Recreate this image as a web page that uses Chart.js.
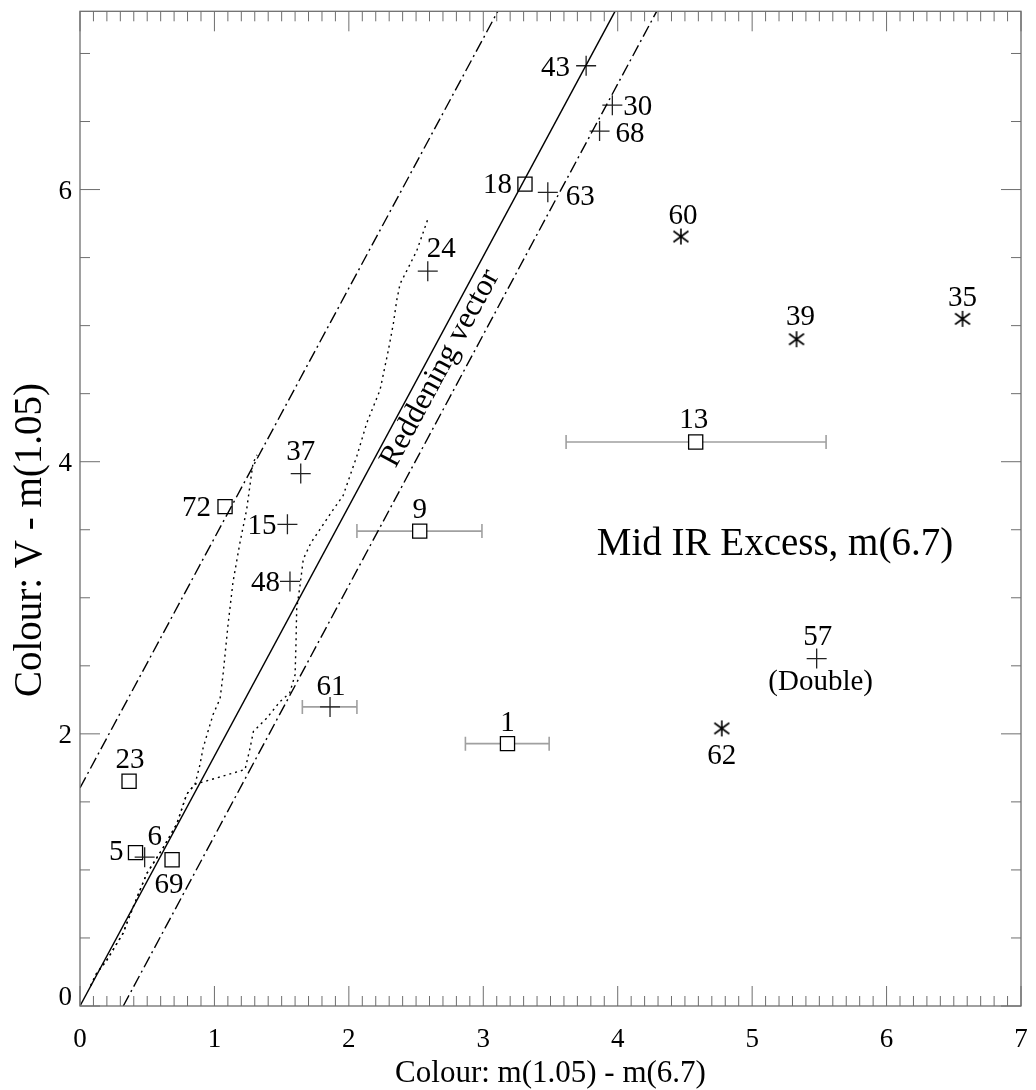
<!DOCTYPE html>
<html>
<head>
<meta charset="utf-8">
<script src="https://cdn.jsdelivr.net/npm/chart.js@4.4.0/dist/chart.umd.min.js"></script>
<style>
  html, body { margin: 0; padding: 0; background: #fff; }
</style>
</head>
<body>
<canvas id="grafico" width="1036" height="1090"></canvas>
<script>
// sources marked with a plus
const plusIds = ["43", "30", "68", "63", "24", "37", "15", "48", "61", "57", "6"];
const plusX = [3.765, 3.96, 3.865, 3.48, 2.587, 1.642, 1.543, 1.562, 1.86, 5.48, 0.481];
const plusY = [6.91, 6.62, 6.43, 5.98, 5.40, 3.913, 3.54, 3.12, 2.198, 2.553, 1.094];

// sources marked with a square
const squareIds = ["18", "13", "9", "72", "1", "23", "5", "69"];
const squareX = [3.31, 4.58, 2.527, 1.079, 3.18, 0.365, 0.413, 0.685];
const squareY = [6.04, 4.145, 3.49, 3.67, 1.928, 1.652, 1.127, 1.075];

// sources marked with an asterisk
const starIds = ["60", "39", "35", "62"];
const starX = [4.47, 5.33, 6.565, 4.774];
const starY = [5.655, 4.90, 5.05, 2.04];

// horizontal error bars
const errIds = ["13", "9", "61", "1"];
const errLow = [3.616, 2.06, 1.654, 2.867];
const errHigh = [5.55, 2.99, 2.06, 3.49];

// reddening vector and its band
const reddeningX = [0, 3.98];
const reddeningY = [0, 7.31];
const upperBandX = [0, 3.108];
const upperBandY = [1.603, 7.31];
const lowerBandX = [0.322, 4.29];
const lowerBandY = [0, 7.31];

// dotted tracks
const trackAX = [0.08, 0.124, 0.199, 0.32, 0.394, 0.496, 0.618, 0.72, 0.794, 0.856, 0.893, 0.915, 0.952, 0.99, 1.042, 1.064, 1.101, 1.138, 1.19, 1.24, 1.287, 1.317];
const trackAY = [0.15, 0.241, 0.336, 0.534, 0.724, 0.972, 1.162, 1.338, 1.557, 1.63, 1.776, 1.893, 2.018, 2.142, 2.259, 2.434, 2.80, 3.114, 3.406, 3.65, 3.99, 4.05];
const trackBX = [0.08, 0.124, 0.199, 0.32, 0.394, 0.496, 0.618, 0.72, 0.794, 0.856, 0.893, 1.228, 1.265, 1.29, 1.389, 1.488, 1.56, 1.6, 1.607, 1.612, 1.637, 1.661, 1.719, 1.885, 1.957, 2.059, 2.133, 2.232, 2.294, 2.331, 2.356, 2.381, 2.431, 2.505, 2.592];
const trackBY = [0.15, 0.241, 0.336, 0.534, 0.724, 0.972, 1.162, 1.338, 1.557, 1.63, 1.64, 1.738, 1.895, 2.018, 2.115, 2.237, 2.30, 2.434, 2.675, 2.919, 3.092, 3.284, 3.406, 3.65, 3.75, 4.04, 4.284, 4.527, 4.82, 5.015, 5.185, 5.307, 5.404, 5.55, 5.795];

const xTickLabels = [0, 1, 2, 3, 4, 5, 6, 7];
const yTickLabels = [0, 2, 4, 6];

// where each number sits next to its marker: [dx, dy, align]
const labelLayout = {
    "43": [-16, 0, "right"], "30": [11, 0, "left"], "68": [16, 1, "left"],
    "18": [-13, -1, "right"], "63": [18, 3, "left"], "24": [-1, -24, "left"],
    "60": [2, -23, "center"], "39": [4, -24, "center"], "35": [0, -23, "center"],
    "13": [-2, -24, "center"], "9": [0, -23, "center"], "37": [0, -24, "center"],
    "72": [-14, -1, "right"], "15": [-11, 0, "right"], "48": [-10, 0, "right"],
    "61": [1, -22, "center"], "1": [0, -23, "center"], "57": [1, -24, "center"],
    "62": [0, 26, "center"], "23": [1, -23, "center"], "5": [-12, -3, "right"],
    "6": [10, -22, "center"], "69": [-3, 23, "center"]
};

const serif = '"Liberation Serif", "DejaVu Serif", serif';
const axisGray = "#6e6e6e";

function pares(xs, ys) {
    return xs.map((x, i) => ({ x: x, y: ys[i] }));
}

function criarAsterisco() {
    const c = document.createElement("canvas");
    c.width = 18;
    c.height = 18;
    const g = c.getContext("2d");
    g.strokeStyle = "#000";
    g.lineWidth = 1.6;
    g.beginPath();
    g.moveTo(9, 1); g.lineTo(9, 17);
    g.moveTo(1.5, 3.5); g.lineTo(16.5, 14.5);
    g.moveTo(1.5, 14.5); g.lineTo(16.5, 3.5);
    g.stroke();
    return c;
}

const errorBars = {
    id: "errorBars",
    beforeDatasetsDraw(chart) {
        const { ctx, scales: { x, y } } = chart;
        ctx.save();
        ctx.strokeStyle = "#a0a0a0";
        ctx.lineWidth = 1.6;
        errIds.forEach((id, i) => {
            const k = squareIds.indexOf(id);
            const yv = k >= 0 ? squareY[k] : plusY[plusIds.indexOf(id)];
            const py = y.getPixelForValue(yv);
            const x0 = x.getPixelForValue(errLow[i]);
            const x1 = x.getPixelForValue(errHigh[i]);
            ctx.beginPath();
            ctx.moveTo(x0, py); ctx.lineTo(x1, py);
            ctx.moveTo(x0, py - 7); ctx.lineTo(x0, py + 7);
            ctx.moveTo(x1, py - 7); ctx.lineTo(x1, py + 7);
            ctx.stroke();
        });
        ctx.restore();
    }
};

const molduraEixos = {
    id: "molduraEixos",
    afterDraw(chart) {
        const { ctx, chartArea: a, scales: { x, y } } = chart;
        ctx.save();

        // frame
        ctx.strokeStyle = axisGray;
        ctx.lineWidth = 1.3;
        ctx.strokeRect(a.left, a.top, a.right - a.left, a.bottom - a.top);

        // inward ticks
        ctx.lineWidth = 1;
        ctx.beginPath();
        for (let i = 0; i <= 70; i++) {
            const px = x.getPixelForValue(i / 10);
            const len = i % 10 === 0 ? 20 : 10;
            ctx.moveTo(px, a.bottom); ctx.lineTo(px, a.bottom - len);
            ctx.moveTo(px, a.top); ctx.lineTo(px, a.top + len);
        }
        for (let i = 0; i * 0.5 <= y.max; i++) {
            const py = y.getPixelForValue(i * 0.5);
            const len = i % 4 === 0 ? 20 : 10;
            ctx.moveTo(a.left, py); ctx.lineTo(a.left + len, py);
            ctx.moveTo(a.right, py); ctx.lineTo(a.right - len, py);
        }
        ctx.stroke();

        // tick labels
        ctx.fillStyle = "#000";
        ctx.font = "27px " + serif;
        ctx.textBaseline = "alphabetic";
        ctx.textAlign = "center";
        xTickLabels.forEach(v => {
            ctx.fillText(String(v), x.getPixelForValue(v), a.bottom + 41);
        });
        ctx.textAlign = "right";
        yTickLabels.forEach(v => {
            const py = y.getPixelForValue(v);
            ctx.fillText(String(v), a.left - 8, v === 0 ? py - 1 : py + 9);
        });

        // axis titles
        ctx.font = "31px " + serif;
        ctx.textAlign = "center";
        ctx.fillText("Colour: m(1.05) - m(6.7)", (a.left + a.right) / 2, a.bottom + 76);
        ctx.save();
        ctx.translate(41, 540);
        ctx.rotate(-Math.PI / 2);
        ctx.font = "39px " + serif;
        ctx.fillText("Colour: V - m(1.05)", 0, 0);
        ctx.restore();

        ctx.restore();
    }
};

const rotulos = {
    id: "rotulos",
    afterDatasetsDraw(chart) {
        const { ctx, scales: { x, y } } = chart;
        ctx.save();
        ctx.fillStyle = "#000";
        ctx.textBaseline = "alphabetic";
        ctx.font = "29px " + serif;

        [[5, plusIds], [6, squareIds], [7, starIds]].forEach(([idx, ids]) => {
            const meta = chart.getDatasetMeta(idx);
            ids.forEach((id, i) => {
                const p = meta.data[i];
                const [dx, dy, align] = labelLayout[id];
                ctx.textAlign = align;
                ctx.fillText(id, p.x + dx, p.y + dy + 10);
                if (id === "57") {
                    ctx.textAlign = "center";
                    ctx.fillText("(Double)", p.x + 4, p.y + 21 + 10);
                }
            });
        });

        // reddening vector label along the solid line
        const x0 = x.getPixelForValue(reddeningX[0]), y0 = y.getPixelForValue(reddeningY[0]);
        const x1 = x.getPixelForValue(reddeningX[1]), y1 = y.getPixelForValue(reddeningY[1]);
        const ang = Math.atan2(y1 - y0, x1 - x0);
        ctx.save();
        ctx.translate(x.getPixelForValue(2.68), y.getPixelForValue(4.686));
        ctx.rotate(ang);
        ctx.font = "31px " + serif;
        ctx.textAlign = "center";
        ctx.textBaseline = "middle";
        ctx.fillText("Reddening vector", 0, 0);
        ctx.restore();

        ctx.font = "39px " + serif;
        ctx.textAlign = "center";
        ctx.fillText("Mid IR Excess, m(6.7)", x.getPixelForValue(5.17), y.getPixelForValue(3.41) + 13);
        ctx.restore();
    }
};

function linha(dados, dash) {
    return {
        data: dados,
        showLine: true,
        borderColor: "#000",
        borderWidth: 1.4,
        borderDash: dash,
        pointRadius: 0,
        fill: false,
        tension: 0
    };
}

new Chart(document.getElementById("grafico"), {
    type: "scatter",
    data: {
        datasets: [
            linha(pares(reddeningX, reddeningY), []),
            linha(pares(upperBandX, upperBandY), [12, 4, 2, 4]),
            linha(pares(lowerBandX, lowerBandY), [12, 4, 2, 4]),
            linha(pares(trackAX, trackAY), [2, 4]),
            linha(pares(trackBX, trackBY), [2, 4]),
            {
                data: pares(plusX, plusY),
                pointStyle: "cross",
                pointRadius: 10,
                borderColor: "#222",
                borderWidth: 1.3
            },
            {
                data: pares(squareX, squareY),
                pointStyle: "rect",
                pointRadius: 10,
                borderColor: "#000",
                backgroundColor: "#fff",
                borderWidth: 1.3
            },
            {
                data: pares(starX, starY),
                pointStyle: criarAsterisco(),
                pointRadius: 9
            }
        ]
    },
    options: {
        responsive: false,
        animation: false,
        layout: { padding: { left: 80, right: 15, top: 6, bottom: 84 } },
        plugins: {
            legend: { display: false },
            tooltip: { enabled: false }
        },
        events: [],
        scales: {
            x: { type: "linear", min: 0, max: 7, display: false },
            y: { type: "linear", min: 0, max: 7.31, display: false }
        }
    },
    plugins: [errorBars, rotulos, molduraEixos]
});
</script>
</body>
</html>
